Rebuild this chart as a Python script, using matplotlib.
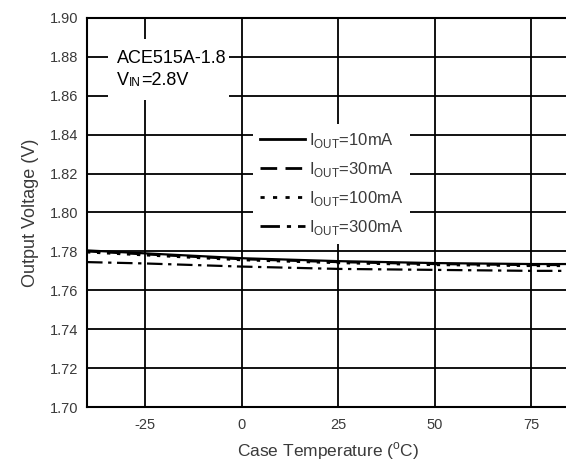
import matplotlib.pyplot as plt
from matplotlib.lines import Line2D
from matplotlib.patches import Rectangle

plt.rcParams['font.family'] = ['Liberation Sans', 'DejaVu Sans']
plt.rcParams['axes.unicode_minus'] = False

# case temperature (degC) and output voltage (V) for each load current
temps = [-40, -25, 0, 25, 50, 75, 85]
v_10ma = [1.7805, 1.7790, 1.7765, 1.7750, 1.7740, 1.7735, 1.7735]
v_30ma = [1.7800, 1.7785, 1.7760, 1.7745, 1.7735, 1.7730, 1.7730]
v_100ma = [1.7795, 1.7780, 1.7755, 1.7740, 1.7730, 1.7725, 1.7725]
v_300ma = [1.7745, 1.7738, 1.7722, 1.7710, 1.7705, 1.7700, 1.7700]

labels = [r'I$_{\mathregular{OUT}}$=10mA', r'I$_{\mathregular{OUT}}$=30mA',
          r'I$_{\mathregular{OUT}}$=100mA', r'I$_{\mathregular{OUT}}$=300mA']
styles = ['-', (0, (6, 3)), (0, (1.5, 3)), (0, (7, 2.5, 1.5, 2.5))]
xticks = [-25, 0, 25, 50, 75]
yticks = [1.70, 1.72, 1.74, 1.76, 1.78, 1.80, 1.82, 1.84, 1.86, 1.88, 1.90]
grey = '#3a3a3a'

fig = plt.figure(figsize=(5.66, 4.66), dpi=100)
ax = fig.add_axes([0.1537, 0.1266, 0.8533, 0.8348])

for v, ls in zip([v_10ma, v_30ma, v_100ma, v_300ma], styles):
    ax.plot(temps, v, color='black', linestyle=ls, linewidth=1.6, zorder=3)

ax.set_xlim(-40, 85)
ax.set_ylim(1.70, 1.90)
ax.set_xticks(xticks)
ax.set_yticks(yticks)
ax.set_yticklabels(['%.2f' % t for t in yticks])
ax.tick_params(length=0, labelsize=10.5, colors=grey)
ax.tick_params(axis='y', pad=6)
ax.tick_params(axis='x', pad=8)
ax.set_axisbelow(True)
ax.grid(True, color='black', linewidth=1.3)
for s in ax.spines.values():
    s.set_linewidth(1.5)

ax.set_xlabel(r'Case Temperature ($^{\mathregular{o}}$C)', fontsize=12.5, color=grey, labelpad=6)
ax.set_ylabel('Output Voltage (V)', fontsize=13, color=grey, labelpad=8)

# white patch behind the part label
ax.add_patch(Rectangle((0.043, 0.788), 0.25, 0.158, transform=ax.transAxes,
                       facecolor='white', edgecolor='none', zorder=1))
ax.text(0.062, 0.885, 'ACE515A-1.8', transform=ax.transAxes,
        fontsize=13, va='baseline', ha='left', zorder=2)
t_v = ax.text(0.062, 0.828, 'V', transform=ax.transAxes,
              fontsize=13, va='baseline', ha='left', zorder=2)
t_in = ax.annotate('IN', xy=(1, 0), xycoords=t_v, fontsize=8.5,
                   va='bottom', ha='left', zorder=2)
ax.annotate('=2.8V', xy=(1, 0), xycoords=t_in, fontsize=13,
            va='bottom', ha='left', zorder=2)

handles = [Line2D([], [], color='black', linestyle=ls, linewidth=2) for ls in styles]
leg = ax.legend(handles, labels, loc='upper left', bbox_to_anchor=(0.344, 0.727),
                fontsize=12, handlelength=2.7, handletextpad=0.25, labelspacing=0.6,
                frameon=True, fancybox=False, borderpad=0.4, borderaxespad=0)
leg.get_frame().set_facecolor('white')
leg.get_frame().set_edgecolor('none')
leg.get_frame().set_alpha(1)
for t in leg.get_texts():
    t.set_color(grey)

fig.savefig('out.png', dpi=100)
